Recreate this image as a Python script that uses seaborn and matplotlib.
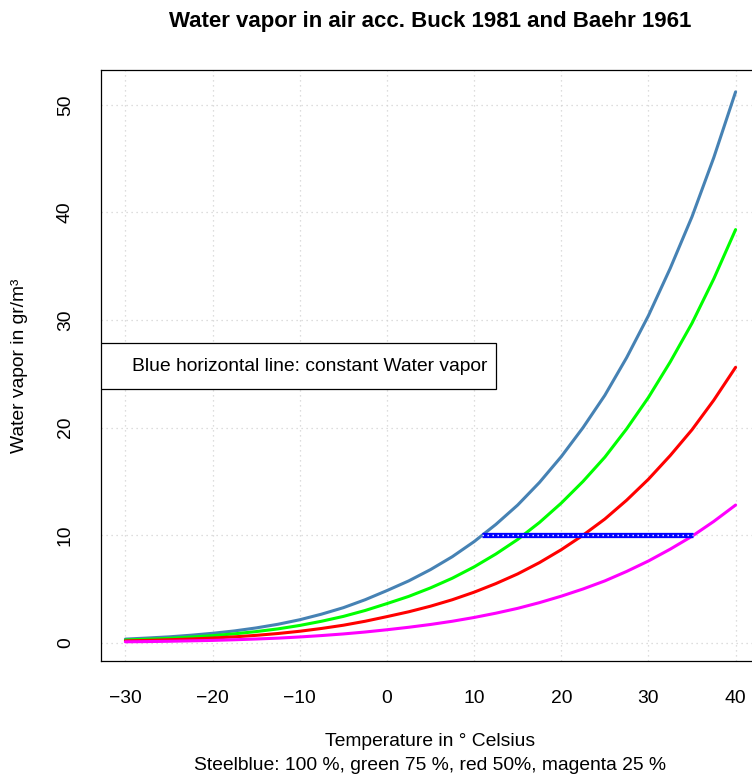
import matplotlib
matplotlib.use("Agg")
import matplotlib.pyplot as plt
import seaborn as sns
import pandas as pd
from matplotlib.patches import Rectangle

# ---- data ----
temperature = [-30, -27.5, -25, -22.5, -20, -17.5, -15, -12.5, -10, -7.5, -5, -2.5,
               0, 2.5, 5, 7.5, 10, 12.5, 15, 17.5, 20, 22.5, 25, 27.5, 30, 32.5, 35, 37.5, 40]
vapor_100 = [0.34, 0.44, 0.55, 0.70, 0.88, 1.10, 1.38, 1.72, 2.14, 2.66, 3.26, 4.00,
             4.85, 5.75, 6.80, 8.00, 9.40, 11.0, 12.8, 14.9, 17.3, 20.0, 23.0, 26.5,
             30.4, 34.8, 39.6, 45.1, 51.2]
vapor_75 = [0.26, 0.33, 0.41, 0.53, 0.66, 0.83, 1.04, 1.29, 1.61, 2.00, 2.45, 3.00,
            3.64, 4.31, 5.10, 6.00, 7.05, 8.25, 9.60, 11.18, 12.98, 15.0, 17.25, 19.88,
            22.8, 26.1, 29.7, 33.83, 38.4]
vapor_50 = [0.17, 0.22, 0.28, 0.35, 0.44, 0.55, 0.69, 0.86, 1.07, 1.33, 1.63, 2.00,
            2.43, 2.88, 3.40, 4.00, 4.70, 5.50, 6.40, 7.45, 8.65, 10.0, 11.5, 13.25,
            15.2, 17.4, 19.8, 22.55, 25.6]
vapor_25 = [0.09, 0.11, 0.14, 0.18, 0.22, 0.28, 0.35, 0.43, 0.54, 0.67, 0.82, 1.00,
            1.21, 1.44, 1.70, 2.00, 2.35, 2.75, 3.20, 3.73, 4.33, 5.00, 5.75, 6.63,
            7.60, 8.70, 9.90, 11.28, 12.8]
humidity_labels = ["100 %", "75 %", "50 %", "25 %"]
const_x = [10.9, 35.1]
const_y = [10, 10]
x_ticks = [-30, -20, -10, 0, 10, 20, 30, 40]
y_ticks = [0, 10, 20, 30, 40, 50]

sns.set_style("white")
plt.rcParams['font.family'] = ['Liberation Sans', 'DejaVu Sans']
plt.rcParams['text.color'] = 'black'
plt.rcParams['axes.labelcolor'] = 'black'
plt.rcParams['xtick.color'] = 'black'
plt.rcParams['ytick.color'] = 'black'

rows = []
for lab, vals in zip(humidity_labels, [vapor_100, vapor_75, vapor_50, vapor_25]):
    for t, v in zip(temperature, vals):
        rows.append({"T": t, "vapor": v, "rh": lab})
df = pd.DataFrame(rows)
palette = {"100 %": "steelblue", "75 %": "#00ff00", "50 %": "#ff0000", "25 %": "#ff00ff"}

W, H = 752, 774
fig = plt.figure(figsize=(W / 100, H / 100), dpi=100)
ax = fig.add_axes([101 / W, (H - 661) / H, (760 - 101) / W, (661 - 70) / H])

FS = 13.9

# grid
for xv in x_ticks:
    ax.axvline(xv, color="#d3d3d3", lw=0.9, ls=(0, (1, 3)), zorder=0)
for yv in y_ticks:
    ax.axhline(yv, color="#d3d3d3", lw=0.9, ls=(0, (1, 3)), zorder=0)

sns.lineplot(data=df, x="T", y="vapor", hue="rh", palette=palette,
             hue_order=humidity_labels, linewidth=2.2, legend=False, ax=ax,
             sort=False)

hl = pd.DataFrame({"x": const_x, "y": const_y})
sns.lineplot(data=hl, x="x", y="y", color="#0000ff", linewidth=3.8, ax=ax,
             solid_capstyle="butt")
ax.plot(const_x, const_y, color="white", lw=1.0, ls=(0, (1, 2.6)), zorder=5)

ymin, ymax = 0.34, 51.2
ext_y = (ymax - ymin) * 0.04
ax.set_ylim(ymin - ext_y, ymax + ext_y)
ax.set_xlim(-30 - 2.8, 40 + 2.8)

ax.set_xticks(x_ticks)
ax.set_yticks(y_ticks)
ax.set_xticklabels(["\u221230", "\u221220", "\u221210", "0", "10", "20", "30", "40"])
ax.set_yticklabels([str(v) for v in y_ticks], rotation=90, va="center")
ax.tick_params(axis="both", direction="out", length=8.6, width=0.8, color="black",
               labelsize=FS, labelcolor="black")
ax.tick_params(axis="x", pad=12.5)
ax.tick_params(axis="y", pad=11)
for s in ax.spines.values():
    s.set_color("black")
    s.set_linewidth(0.9)
ax.set_xlabel("")
ax.set_ylabel("")

# legend-like box
ax.add_patch(Rectangle((0, 0.4602), 0.5994, 0.538 - 0.4602, transform=ax.transAxes,
                       facecolor="white", edgecolor="black", lw=0.9, zorder=6))
ax.text(0.047, 0.499, "Blue horizontal line: constant Water vapor", transform=ax.transAxes,
        ha="left", va="center", fontsize=FS, color="black", zorder=7)

fig.text(430 / W, 1 - 22 / H, "Water vapor in air acc. Buck 1981 and Baehr 1961",
         ha="center", va="center", fontsize=16, fontweight="bold", color="black")
fig.text(430 / W, 1 - 742 / H, "Temperature in \u00b0 Celsius", ha="center", va="center",
         fontsize=FS, color="black")
fig.text(430 / W, 1 - 765 / H, "Steelblue: 100 %, green 75 %, red 50%, magenta 25 %",
         ha="center", va="center", fontsize=FS, color="black")
fig.text(20 / W, 1 - 365.5 / H, "Water vapor in gr/m\u00b3", ha="center", va="center",
         rotation=90, fontsize=FS, color="black")

fig.savefig("out.png", dpi=100)
